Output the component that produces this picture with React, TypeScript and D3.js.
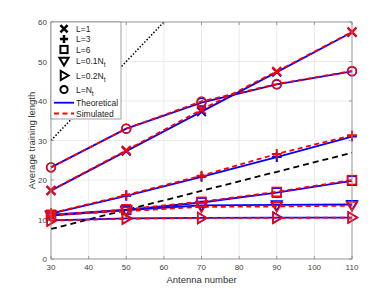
import React from "react";
import * as d3 from "d3";

// antenna numbers
const antennas = [30, 50, 70, 90, 110];

// theoretical / simulated curves, one per training scheme
const l1Theo = [17.3, 27.3, 37.3, 47.3, 57.4];
const l1Sim = [17.4, 27.5, 37.8, 47.5, 57.5];
const l3Theo = [11.5, 16.0, 20.8, 25.8, 31.0];
const l3Sim = [11.6, 16.2, 21.1, 26.6, 31.3];
const l6Theo = [11.2, 12.4, 14.3, 16.8, 19.8];
const l6Sim = [11.0, 12.6, 14.5, 17.0, 20.0];
const l01Theo = [11.0, 12.4, 13.6, 13.7, 13.8];
const l01Sim = [11.2, 12.1, 13.2, 13.3, 13.5];
const l02Theo = [9.8, 10.3, 10.4, 10.5, 10.5];
const l02Sim = [9.7, 10.2, 10.4, 10.4, 10.5];
const lNtTheo = [23.2, 33.0, 39.6, 44.2, 47.5];
const lNtSim = [23.2, 33.0, 39.9, 44.3, 47.6];

// reference lines
const dashedX = [30, 110];
const dashedY = [7.6, 26.9];
const dottedX = [30, 50, 70, 90, 110];
const dottedY = [30, 50, 70, 90, 110];

const xTicks = [30, 40, 50, 60, 70, 80, 90, 100, 110];
const yTicks = [0, 10, 20, 30, 40, 50, 60];

const series = [
  { name: "L=1", sub: "", marker: "x", theo: l1Theo, sim: l1Sim },
  { name: "L=3", sub: "", marker: "plus", theo: l3Theo, sim: l3Sim },
  { name: "L=6", sub: "", marker: "square", theo: l6Theo, sim: l6Sim },
  { name: "L=0.1N", sub: "t", marker: "down", theo: l01Theo, sim: l01Sim },
  { name: "L=0.2N", sub: "t", marker: "right", theo: l02Theo, sim: l02Sim },
  { name: "L=N", sub: "t", marker: "circle", theo: lNtTheo, sim: lNtSim },
];

const W = 389;
const H = 292;
const m = { left: 51, right: 37, top: 22, bottom: 33 };

function Marker({ type, x, y, color, size = 4.4, sw = 1.5 }) {
  const s = size;
  if (type === "x")
    return (
      <path d={`M${x - s},${y - s}L${x + s},${y + s}M${x - s},${y + s}L${x + s},${y - s}`} stroke={color} strokeWidth={sw + 0.5} fill="none" />
    );
  if (type === "plus")
    return (
      <path d={`M${x - s - 0.5},${y}L${x + s + 0.5},${y}M${x},${y - s - 0.5}L${x},${y + s + 0.5}`} stroke={color} strokeWidth={sw + 0.5} fill="none" />
    );
  if (type === "square")
    return <rect x={x - s} y={y - s} width={2 * s} height={2 * s} stroke={color} strokeWidth={sw} fill="none" />;
  if (type === "down") {
    const r = s + 1;
    return <path d={`M${x - r},${y - r * 0.7}L${x + r},${y - r * 0.7}L${x},${y + r}Z`} stroke={color} strokeWidth={sw} fill="none" />;
  }
  if (type === "right") {
    const r = s + 1;
    return <path d={`M${x - r * 0.7},${y - r}L${x - r * 0.7},${y + r}L${x + r},${y}Z`} stroke={color} strokeWidth={sw} fill="none" />;
  }
  return <circle cx={x} cy={y} r={s} stroke={color} strokeWidth={sw} fill="none" />;
}

export default function App() {
  const x = d3.scaleLinear().domain([30, 110]).range([m.left, W - m.right]);
  const y = d3.scaleLinear().domain([0, 60]).range([H - m.bottom, m.top]);
  const line = d3
    .line<[number, number]>()
    .x((d) => x(d[0]))
    .y((d) => y(d[1]));
  const pts = (xs: number[], ys: number[]) => xs.map((v, i) => [v, ys[i]] as [number, number]);

  const x0 = x(30), x1 = x(110), y0 = y(0), y1 = y(60);
  const axisColor = "#888";
  const textColor = "#444";
  const font = "Liberation Sans, Arial, sans-serif";

  const legendItems = series.map((s, i) => ({ ...s, ly: [28.7, 39, 49.5, 61, 75.5, 89.5][i] }));

  return (
    <svg width={W} height={H} style={{ position: "absolute", left: 0, top: 0 }} fontFamily={font}>
      <rect width={W} height={H} fill="#fff" />
      <defs>
        <clipPath id="plot">
          <rect x={x0} y={y1} width={x1 - x0} height={y0 - y1} />
        </clipPath>
      </defs>
      {/* grid */}
      {xTicks.map((t) => (
        <line key={"gx" + t} x1={x(t)} x2={x(t)} y1={y0} y2={y1} stroke="#e6e6e6" strokeWidth={0.8} />
      ))}
      {yTicks.map((t) => (
        <line key={"gy" + t} x1={x0} x2={x1} y1={y(t)} y2={y(t)} stroke="#e6e6e6" strokeWidth={0.8} />
      ))}
      <g clipPath="url(#plot)">
        <path d={line(pts(dottedX, dottedY))!} stroke="#000" strokeWidth={1.5} strokeDasharray="1.5 1.8" fill="none" />
        <path d={line(pts(dashedX, dashedY))!} stroke="#000" strokeWidth={1.8} strokeDasharray="6 4" fill="none" />
      </g>
      {series.map((s) => (
        <g key={s.name + s.sub}>
          <path d={line(pts(antennas, s.theo))!} stroke="#0000ff" strokeWidth={1.8} fill="none" />
          {antennas.map((a, i) => (
            <Marker key={"t" + a} type={s.marker} x={x(a)} y={y(s.theo[i])} color="#0000ff" />
          ))}
        </g>
      ))}
      {series.map((s) => (
        <g key={"s" + s.name + s.sub}>
          <path d={line(pts(antennas, s.sim))!} stroke="#ff0000" strokeWidth={1.8} strokeDasharray="5 3.5" fill="none" />
          {antennas.map((a, i) => (
            <Marker key={"s" + a} type={s.marker} x={x(a)} y={y(s.sim[i])} color="#ff0000" />
          ))}
        </g>
      ))}
      {/* axes box */}
      <rect x={x0} y={y1} width={x1 - x0} height={y0 - y1} fill="none" stroke={axisColor} strokeWidth={0.8} />
      {xTicks.map((t) => (
        <g key={"tx" + t}>
          <line x1={x(t)} x2={x(t)} y1={y0} y2={y0 - 3} stroke={axisColor} strokeWidth={0.8} />
          <line x1={x(t)} x2={x(t)} y1={y1} y2={y1 + 3} stroke={axisColor} strokeWidth={0.8} />
          <text x={x(t)} y={y0 + 11} fontSize={8} fill={textColor} textAnchor="middle">
            {t}
          </text>
        </g>
      ))}
      {yTicks.map((t) => (
        <g key={"ty" + t}>
          <line x1={x0} x2={x0 + 3} y1={y(t)} y2={y(t)} stroke={axisColor} strokeWidth={0.8} />
          <line x1={x1} x2={x1 - 3} y1={y(t)} y2={y(t)} stroke={axisColor} strokeWidth={0.8} />
          <text x={x0 - 4} y={y(t) + 3} fontSize={8} fill={textColor} textAnchor="end">
            {t}
          </text>
        </g>
      ))}
      <text x={(x0 + x1) / 2} y={H - 9} fontSize={9.5} fill="#333" textAnchor="middle">
        Antenna number
      </text>
      <text transform={`translate(35,${(y0 + y1) / 2}) rotate(-90)`} fontSize={9.5} fill="#333" textAnchor="middle">
        Average training length
      </text>
      {/* legend */}
      <rect x={x0} y={y1} width={70} height={97} fill="#fff" stroke={axisColor} strokeWidth={0.8} />
      {legendItems.map((s) => (
        <g key={"l" + s.name + s.sub}>
          <Marker type={s.marker} x={64} y={s.ly} color="#000" size={3.6} sw={2} />
          <text x={76} y={s.ly + 3.2} fontSize={8.5} fill="#222">
            {s.name}
            {s.sub && (
              <tspan dy={3} fontSize={6.5}>
                {s.sub}
              </tspan>
            )}
          </text>
        </g>
      ))}
      <line x1={54} x2={74} y1={102.7} y2={102.7} stroke="#0000ff" strokeWidth={1.8} />
      <text x={76} y={106} fontSize={8.5} fill="#222">Theoretical</text>
      <line x1={54} x2={74} y1={113.5} y2={113.5} stroke="#ff0000" strokeWidth={1.8} strokeDasharray="5 3.5" />
      <text x={76} y={116.8} fontSize={8.5} fill="#222">Simulated</text>
    </svg>
  );
}
